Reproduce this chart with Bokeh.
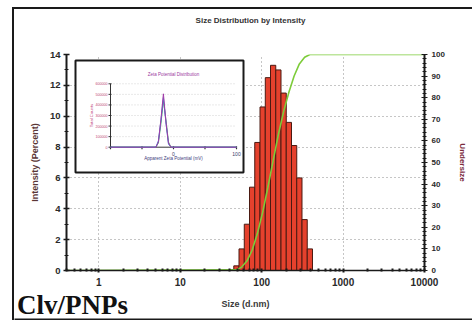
import numpy as np
from bokeh.plotting import figure
from bokeh.layouts import column
from bokeh.models import (Range1d, LinearAxis, FixedTicker, LinearScale,
                          PrintfTickFormatter, Plot, Div)
from bokeh.embed import file_html
from bokeh.resources import INLINE
from bokeh.core.properties import value

# ---------------- data ----------------
size_nm = [48.9, 56.7, 65.8, 76.3, 88.5, 102.7, 119.2, 138.2, 160.3, 186.0,
           215.8, 250.3, 290.3, 336.8, 390.7]
intensity_pct = [0.3, 1.4, 3.0, 5.4, 8.3, 10.6, 12.5, 13.3, 13.0, 11.5,
                 9.6, 8.1, 6.0, 3.3, 1.4]
bin_ratio = 1.16
size_limits = [0.4, 10000]
x_ticks = [1, 10, 100, 1000, 10000]
y_left_ticks = [0, 2, 4, 6, 8, 10, 12, 14]
y_right_ticks = [0, 10, 20, 30, 40, 50, 60, 70, 80, 90, 100]

zeta_mv = [-100, -40, -28, -24, -20, -16, -12, -8, -4, 100]
zeta_run1 = [0, 0, 0, 60000, 250000, 470000, 230000, 30000, 0, 0]
zeta_run2 = [0, 0, 0, 40000, 220000, 440000, 260000, 50000, 0, 0]
zeta_run3 = [0, 0, 0, 50000, 260000, 505000, 240000, 40000, 0, 0]
zeta_x_limits = [-100, 100]
zeta_y_limits = [0, 600000]
zeta_y_ticks = [0, 100000, 200000, 300000, 400000, 500000, 600000]
zeta_x_ticks = [-100, -50, 0, 50, 100]
zeta_x_labels = ["", "", "0", "", "100"]

title_text = "Size Distribution by Intensity"
x_label_text = "Size (d.nm)"
sample_text = "Clv/PNPs"

# ---------------- layout (page pixel positions) ----------------
PAGE_X0, PAGE_Y0 = 14, 9          # top-left of the drawing area (inside the border)
W = 458
TOP_H = 30
FRAME_L, FRAME_R, FRAME_T, FRAME_B = 66, 424, 54, 270
MAIN_BOTTOM = 289
PAGE_BOTTOM = 320
BOT_H = PAGE_BOTTOM - MAIN_BOTTOM
IN_AX_L, IN_AX_R, IN_AX_T, IN_AX_B = 110, 236, 83.3, 146.7
IN_BOX_L, IN_BOX_R, IN_BOX_T, IN_BOX_B = 75, 243, 60, 172

HAS_FA = "frame_align" in Plot.properties()

kx = (zeta_x_limits[1] - zeta_x_limits[0]) / (IN_AX_R - IN_AX_L)
ky = (zeta_y_limits[1] - zeta_y_limits[0]) / (IN_AX_B - IN_AX_T)


def ix(px):
    return zeta_x_limits[0] + (px - IN_AX_L) * kx


def iy(py):
    return zeta_y_limits[0] + (IN_AX_B - py) * ky


FONT = value("Liberation Sans")
SERIF = value("Liberation Serif")


def strip(height):
    # x data == page pixel x, y data == pixels above the strip bottom
    if HAS_FA:
        xr = Range1d(PAGE_X0, PAGE_X0 + W)
    else:
        xr = Range1d(FRAME_L, FRAME_R)
    s = figure(width=W, height=height, x_range=xr, y_range=Range1d(0, height),
               output_backend="svg", toolbar_location=None,
               x_axis_location=None, y_axis_location=None,
               min_border_left=0, min_border_right=0, min_border_top=0, min_border_bottom=0)
    if HAS_FA:
        s.frame_align = False
    s.grid.visible = False
    s.outline_line_color = None
    s.background_fill_color = "white"
    s.border_fill_color = "white"
    return s


# ---------------- top strip: title ----------------
top = strip(TOP_H)
top.text(x=[250], y=[TOP_H - (19.5 - PAGE_Y0)], text=[title_text],
         text_align="center", text_baseline="middle", text_font=FONT,
         text_font_size=value("8px"), text_font_style="bold", text_color="#333333")

# ---------------- main figure ----------------
main_top = PAGE_Y0 + TOP_H
p = figure(width=W, height=MAIN_BOTTOM - main_top, x_axis_type="log",
           x_range=Range1d(*size_limits), y_range=Range1d(0, 14),
           output_backend="svg", toolbar_location=None,
           min_border_left=FRAME_L - PAGE_X0, min_border_right=PAGE_X0 + W - FRAME_R,
           min_border_top=FRAME_T - main_top, min_border_bottom=MAIN_BOTTOM - FRAME_B)
p.outline_line_color = None
p.background_fill_color = "white"
p.border_fill_color = "white"

p.extra_y_ranges = {"cum": Range1d(0, 100), "iy": Range1d(iy(FRAME_B), iy(FRAME_T))}
p.extra_x_ranges = {"ix": Range1d(ix(FRAME_L), ix(FRAME_R))}
p.extra_x_scales = {"ix": LinearScale()}

for g in (p.xgrid[0], p.ygrid[0]):
    g.grid_line_color = "#8c8c8c"
    g.grid_line_dash = "1 3"
    g.grid_line_width = 1

xa = p.xaxis[0]
minor_x = [m * 10.0 ** e for e in range(-1, 4) for m in range(2, 10)
           if size_limits[0] <= m * 10.0 ** e <= size_limits[1]]
xa.ticker = FixedTicker(ticks=x_ticks, minor_ticks=minor_x)
xa.formatter = PrintfTickFormatter(format="%d")
xa.major_label_text_font = "Liberation Sans"
xa.major_label_text_font_size = "10px"
xa.major_label_text_font_style = "bold"
xa.major_label_text_color = "#2a2a2a"
xa.major_label_standoff = 5
xa.axis_line_color = "#1a1a1a"
xa.axis_line_width = 1.5
xa.major_tick_in = 2
xa.major_tick_out = 2
xa.minor_tick_in = 2
xa.minor_tick_out = 1
xa.major_tick_line_color = "#1a1a1a"
xa.minor_tick_line_color = "#1a1a1a"
xa.major_tick_line_width = 2
xa.minor_tick_line_width = 2

ya = p.yaxis[0]
ya.ticker = FixedTicker(ticks=y_left_ticks, minor_ticks=list(range(0, 15)))
ya.axis_label = "Intensity (Percent)"
ya.axis_label_text_font = "Liberation Sans"
ya.axis_label_text_font_size = "9px"
ya.axis_label_text_font_style = "bold"
ya.axis_label_text_color = "#5a3636"
ya.axis_label_standoff = 7
ya.major_label_text_font = "Liberation Sans"
ya.major_label_text_font_size = "9.5px"
ya.major_label_text_font_style = "bold"
ya.major_label_text_color = "#2a2a2a"
ya.major_label_standoff = 3
ya.axis_line_color = "#1a1a1a"
ya.axis_line_width = 2
ya.major_tick_in = 3
ya.major_tick_out = 3
ya.minor_tick_in = 2
ya.minor_tick_out = 2
ya.major_tick_line_width = 1.5
ya.major_tick_line_color = "#1a1a1a"
ya.minor_tick_line_color = "#1a1a1a"

ra = LinearAxis(y_range_name="cum",
                ticker=FixedTicker(ticks=y_right_ticks, minor_ticks=list(range(0, 101, 2))),
                axis_label="Undersize")
ra.axis_label_text_font = "Liberation Sans"
ra.axis_label_text_font_size = "8px"
ra.axis_label_text_font_style = "bold"
ra.axis_label_text_color = "#7a2a3c"
ra.axis_label_standoff = 10
ra.major_label_text_font = "Liberation Sans"
ra.major_label_text_font_size = "8px"
ra.major_label_text_font_style = "bold"
ra.major_label_text_color = "#2a2a2a"
ra.major_label_standoff = 4
ra.axis_line_color = "#1a1a1a"
ra.axis_line_width = 2
ra.major_tick_in = 3
ra.major_tick_out = 3
ra.minor_tick_in = 2
ra.minor_tick_out = 2
ra.major_tick_line_color = "#1a1a1a"
ra.minor_tick_line_color = "#1a1a1a"
p.add_layout(ra, "right")

# histogram + cumulative
half = np.sqrt(bin_ratio)
p.quad(left=[s / half for s in size_nm], right=[s * half for s in size_nm],
       bottom=0, top=intensity_pct,
       fill_color="#e5412d", line_color="#4a1a12", line_width=1)

cum = np.cumsum(intensity_pct) / np.sum(intensity_pct) * 100
cx = [size_limits[0]] + size_nm + [size_limits[1]]
cy = [0.0] + list(cum) + [100.0]
p.line(cx, cy, y_range_name="cum", line_color="#7dcc3a", line_width=1.6)

# ---------------- inset: zeta potential ----------------
IR = dict(x_range_name="ix", y_range_name="iy")
p.quad(left=[ix(IN_BOX_L)], right=[ix(IN_BOX_R)], bottom=[iy(IN_BOX_B)], top=[iy(IN_BOX_T)],
       fill_color="white", line_color="#1a1a1a", line_width=2, **IR)
p.multi_line(xs=[[zeta_x_limits[0], zeta_x_limits[1]] for _ in zeta_y_ticks[1:]],
             ys=[[t, t] for t in zeta_y_ticks[1:]],
             line_color="#c8c8c8", line_dash="1 2", line_width=0.8, **IR)
p.line([zeta_x_limits[0], zeta_x_limits[0]], zeta_y_limits, line_color="#333333",
       line_width=1, **IR)
p.line(zeta_x_limits, [zeta_y_limits[0]] * 2, line_color="#333333", line_width=1, **IR)
tick_len_x = 2 * kx
tick_len_y = 2 * ky
p.segment(x0=[zeta_x_limits[0] - tick_len_x] * len(zeta_y_ticks), y0=zeta_y_ticks,
          x1=[zeta_x_limits[0] + tick_len_x / 2] * len(zeta_y_ticks), y1=zeta_y_ticks,
          line_color="#333333", line_width=1, **IR)
p.segment(x0=zeta_x_ticks, y0=[-tick_len_y] * len(zeta_x_ticks),
          x1=zeta_x_ticks, y1=[tick_len_y / 2] * len(zeta_x_ticks),
          line_color="#333333", line_width=1.2, **IR)
p.line(zeta_mv, zeta_run2, line_color="#4cb86a", line_width=1, **IR)
p.line(zeta_mv, zeta_run1, line_color="#3a86d8", line_width=1, **IR)
p.line(zeta_mv, zeta_run3, line_color="#a23aa8", line_width=1, **IR)
p.text(x=[ix(IN_AX_L - 3)] * len(zeta_y_ticks), y=zeta_y_ticks,
       text=[str(t) for t in zeta_y_ticks], text_align="right", text_baseline="middle",
       text_font=FONT, text_font_size=value("3.6px"), text_color="#c0407a", **IR)
p.text(x=zeta_x_ticks, y=[iy(IN_AX_B + 6.5)] * len(zeta_x_ticks), text=zeta_x_labels,
       text_align="center", text_baseline="middle",
       text_font=FONT, text_font_size=value("5px"), text_color="#3a3a6a", **IR)
p.text(x=[0], y=[iy(IN_AX_B + 11.5)], text=["Apparent Zeta Potential (mV)"],
       text_align="center", text_baseline="middle",
       text_font=FONT, text_font_size=value("4.5px"), text_color="#3a3a7a", **IR)
p.text(x=[0], y=[iy(IN_BOX_T + 14)], text=["Zeta Potential Distribution"],
       text_align="center", text_baseline="middle",
       text_font=FONT, text_font_size=value("4.5px"), text_color="#9a3aa0", **IR)
p.text(x=[ix(91)], y=[(zeta_y_limits[0] + zeta_y_limits[1]) / 2],
       text=["Total Counts"], angle=np.pi / 2,
       text_align="center", text_baseline="middle",
       text_font=FONT, text_font_size=value("4.2px"), text_color="#c0407a", **IR)

# ---------------- bottom strip: x label, sample name, bottom border ----------------
if HAS_FA:
    bot = strip(BOT_H)
    bot.segment(x0=[PAGE_X0 - 2], x1=[PAGE_X0 + W], y0=[PAGE_BOTTOM - 318.8],
                y1=[PAGE_BOTTOM - 318.8], line_color="#1a1a1a", line_width=1.8)
    bot.text(x=[(FRAME_L + FRAME_R) / 2], y=[PAGE_BOTTOM - 303],
             text=[x_label_text], text_align="center", text_baseline="middle",
             text_font=FONT, text_font_size=value("9px"), text_font_style="bold",
             text_color="#3a3a3a")
    bot.text(x=[72], y=[PAGE_BOTTOM - 304.5], text=[sample_text],
             text_align="center", text_baseline="middle",
             text_font=SERIF, text_font_size=value("27px"), text_font_style="bold",
             text_color="#111111")
else:
    cx_lab = (FRAME_L + FRAME_R) / 2 - PAGE_X0
    html = (
        f'<div style="position:relative;width:{W}px;height:{BOT_H}px;overflow:hidden;background:white;'
        f'border-bottom:2px solid #1a1a1a;box-sizing:border-box">'
        f'<span style="position:absolute;left:1px;top:1px;font-family:\'Liberation Serif\';'
        f'font-weight:bold;font-size:27px;line-height:27px;color:#111111;white-space:nowrap">{sample_text}</span>'
        f'<span style="position:absolute;left:{cx_lab - 60}px;width:120px;top:9px;text-align:center;'
        f'font-family:\'Liberation Sans\';font-weight:bold;font-size:9px;line-height:9px;'
        f'color:#3a3a3a;white-space:nowrap">{x_label_text}</span></div>'
    )
    bot = Div(text=html, width=W, height=BOT_H, margin=(0, 0, 0, 0))

lay = column(top, p, bot, spacing=0)
lay.styles = {"border-left": "2px solid #1a1a1a", "border-top": "2px solid #1a1a1a",
              "box-sizing": "content-box",
              "margin-left": f"{PAGE_X0 - 2}px", "margin-top": f"{PAGE_Y0 - 2}px"}

open("out.html", "w").write(file_html(lay, INLINE))
